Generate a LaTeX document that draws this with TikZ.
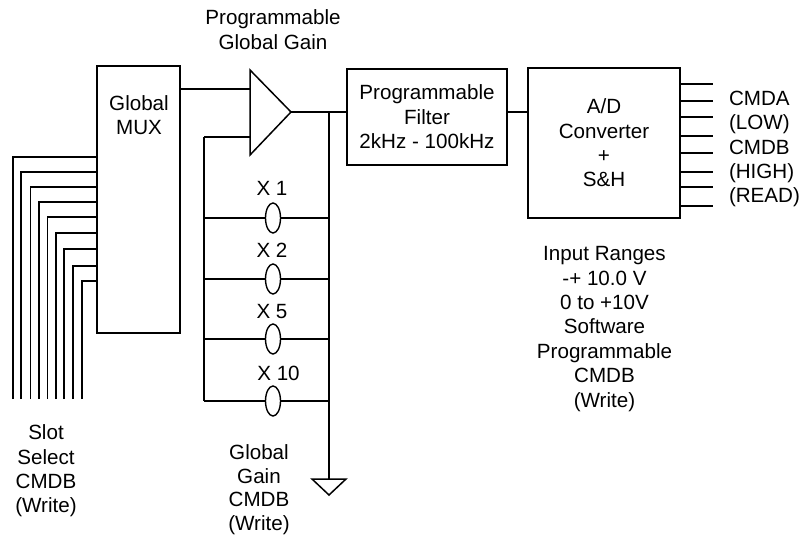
\documentclass[tikz,border=0pt]{standalone}
\usepackage{fontspec}
\setmainfont{Liberation Sans}
\usetikzlibrary{shapes.geometric}
\tikzset{
  wire/.style={line width=1.5pt},
  thinwire/.style={line width=1.1pt},
  blockbox/.style={draw,line width=1.6pt,inner sep=0pt,outer sep=0pt,align=center,font=\fontsize{20.6}{24.4}\selectfont},
  lbl/.style={inner sep=0pt,outer sep=0pt,align=center,font=\fontsize{20.6}{24.4}\selectfont},
  gainsw/.style={draw,ellipse,line width=1.4pt,minimum width=15pt,minimum height=30pt,inner sep=0pt,outer sep=0pt,fill=white},
}
\begin{document}
\begin{tikzpicture}[x=1pt,y=-1pt,line join=miter]
\useasboundingbox (0,0) rectangle (802,537);
% blocks
\node[blockbox,minimum width=83pt,minimum height=267pt] (mux) at (138.5,199.5) {};
\node[lbl] (muxt) at (139,115) {Global\\MUX};
\node[blockbox,minimum width=160pt,minimum height=96pt] (filt) at (427,117) {Programmable\\Filter\\2kHz - 100kHz};
\node[blockbox,minimum width=152pt,minimum height=150pt] (adc) at (604,143) {A/D\\Converter\\+\\S\&H};
% amplifier
\coordinate (ampA) at (250,70);
\coordinate (ampB) at (250,155);
\coordinate (ampO) at (291,112);
\draw[wire] (ampA) -- (ampO) -- (ampB) -- cycle;
\coordinate (ampI1) at (250,89);
\coordinate (ampI2) at (250,137);
\draw[wire] (mux.east |- ampI1) -- (ampI1);
\coordinate (railL) at (204,137);
\coordinate (railR) at (329,112);
\coordinate (gnd) at (329,479);
\draw[wire] (ampO) -- (railR) -- (filt.west |- railR);
\draw[wire] (ampI2) -- (railL);
\draw[thinwire] (filt.east |- 0,112) -- (adc.west |- 0,112);
% gain switches
\node[gainsw] (s1) at (273,218) {};
\node[gainsw] (s2) at (273,279) {};
\node[gainsw] (s3) at (273,339) {};
\node[gainsw] (s4) at (273,401) {};
\foreach \s in {s1,s2,s3,s4}{
  \draw[wire] (railL |- \s) -- (\s.west);
  \draw[wire] (\s.east) -- (railR |- \s);
}
\draw[wire] (railL) -- (railL |- s4);
\draw[thinwire] (railR) -- (gnd);
\coordinate (gndA) at (312,479);
\coordinate (gndB) at (346,479);
\coordinate (gndC) at (329,495);
\draw[wire] (gndA) -- (gndB) -- (gndC) -- cycle;
\node[lbl] (x1) at (272,188) {X 1};
\node[lbl] (x2) at (272,250) {X 2};
\node[lbl] (x3) at (272,312) {X 5};
\node[lbl] (x4) at (278.5,373) {X 10};
% slot bus
\foreach \n/\x/\y in {1/13/157,2/21/172,3/30.5/187,4/39/202,5/47.7/217,6/56/233,7/64/249,8/73/266,9/82/281}{
  \coordinate (bus\n) at (\x,399);
  \coordinate (busend\n) at (97,\y);
  \draw[wire] (bus\n) |- (busend\n);
}
% outputs
\foreach \n/\y in {1/84,2/101,3/117,4/136,5/153,6/172,7/187,8/206}{
  \coordinate (outs\n) at (680,\y);
  \coordinate (oute\n) at (713,\y);
  \draw[wire] (outs\n) -- (oute\n);
}
% labels
\node[lbl] (pgg) at (273,29.5) {Programmable\\Global Gain};
\node[lbl,align=left,anchor=west] (cmd) at (729,149) {CMDA\\(LOW)\\CMDB\\(HIGH)\\(READ)};
\node[lbl] (rng) at (604.5,329) {Input Ranges\\-+ 10.0 V\\0 to +10V\\Software\\Programmable\\CMDB\\(Write)};
\node[lbl] (slot) at (46,471) {Slot\\Select\\CMDB\\(Write)};
\node[lbl,font=\fontsize{20.6}{23.6}\selectfont] (ggc) at (259,489.5) {Global\\Gain\\CMDB\\(Write)};
\end{tikzpicture}
\end{document}
